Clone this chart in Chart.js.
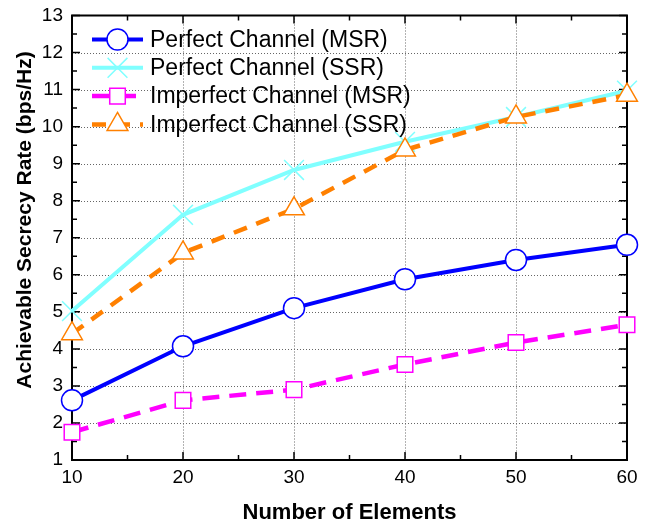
<!DOCTYPE html>
<html>
<head>
<meta charset="utf-8">
<script src="https://cdn.jsdelivr.net/npm/chart.js@4/dist/chart.umd.min.js"></script>
<style>
  html, body { margin: 0; padding: 0; background: #fff; }
</style>
</head>
<body>
<canvas id="chart" width="655" height="528"></canvas>
<script>
// data
const elements = [10, 20, 30, 40, 50, 60];
const perfectMSR = [2.61, 4.07, 5.10, 5.88, 6.40, 6.81];
const perfectSSR = [5.02, 7.62, 8.83, 9.59, 10.26, 10.97];
const imperfectMSR = [1.75, 2.61, 2.90, 3.58, 4.17, 4.65];
const imperfectSSR = [4.41, 6.59, 7.78, 9.37, 10.26, 10.85];
const seriesNames = ['Perfect Channel (MSR)', 'Perfect Channel (SSR)', 'Imperfect Channel (MSR)', 'Imperfect Channel (SSR)'];
const xTicks = [10, 20, 30, 40, 50, 60];
const yTicks = [1, 2, 3, 4, 5, 6, 7, 8, 9, 10, 11, 12, 13];

const FONT = '"Liberation Sans", Arial, sans-serif';

function toPoints(vals) {
    return vals.map((v, i) => ({ x: elements[i], y: v }));
}

// marker drawing, used by the legend
function drawMarker(ctx, style, r, x, y, color, lw) {
    ctx.save();
    ctx.setLineDash([]);
    ctx.strokeStyle = color;
    ctx.fillStyle = '#fff';
    ctx.lineWidth = lw;
    ctx.beginPath();
    if (style === 'circle') {
        ctx.arc(x, y, r, 0, Math.PI * 2);
        ctx.fill(); ctx.stroke();
    } else if (style === 'rect') {
        const s = r * Math.SQRT1_2;
        ctx.rect(x - s, y - s, 2 * s, 2 * s);
        ctx.fill(); ctx.stroke();
    } else if (style === 'triangle') {
        for (let k = 0; k < 3; k++) {
            const a = k * 2 * Math.PI / 3;
            const px = x + Math.sin(a) * r, py = y - Math.cos(a) * r;
            if (k === 0) ctx.moveTo(px, py); else ctx.lineTo(px, py);
        }
        ctx.closePath();
        ctx.fill(); ctx.stroke();
    } else if (style === 'crossRot') {
        const d = r * Math.SQRT1_2;
        ctx.moveTo(x - d, y - d); ctx.lineTo(x + d, y + d);
        ctx.moveTo(x - d, y + d); ctx.lineTo(x + d, y - d);
        ctx.stroke();
    }
    ctx.restore();
}

// dotted grid, box frame and inward ticks
const framePlugin = {
    id: 'frame',
    beforeDatasetsDraw(chart) {
        const { ctx, chartArea: a, scales: { x, y } } = chart;
        ctx.save();
        ctx.strokeStyle = '#666';
        ctx.lineWidth = 1;
        ctx.setLineDash([1, 2]);
        xTicks.slice(1, -1).forEach(v => {
            const px = Math.round(x.getPixelForValue(v)) + 0.5;
            ctx.beginPath(); ctx.moveTo(px, a.top); ctx.lineTo(px, a.bottom); ctx.stroke();
        });
        yTicks.slice(1, -1).forEach(v => {
            const py = Math.round(y.getPixelForValue(v)) + 0.5;
            ctx.beginPath(); ctx.moveTo(a.left, py); ctx.lineTo(a.right, py); ctx.stroke();
        });
        ctx.setLineDash([]);
        ctx.strokeStyle = '#000';
        ctx.lineWidth = 1.5;
        // minor + major ticks
        for (let v = 10; v <= 60; v += 5) {
            const px = x.getPixelForValue(v);
            const len = v % 10 === 0 ? 8 : 5;
            ctx.beginPath();
            ctx.moveTo(px, a.bottom); ctx.lineTo(px, a.bottom - len);
            ctx.moveTo(px, a.top); ctx.lineTo(px, a.top + len);
            ctx.stroke();
        }
        for (let v = 1; v <= 13; v += 0.5) {
            const py = y.getPixelForValue(v);
            const len = v % 1 === 0 ? 8 : 5;
            ctx.beginPath();
            ctx.moveTo(a.left, py); ctx.lineTo(a.left + len, py);
            ctx.moveTo(a.right, py); ctx.lineTo(a.right - len, py);
            ctx.stroke();
        }
        ctx.lineWidth = 2;
        ctx.strokeRect(a.left, a.top, a.right - a.left, a.bottom - a.top);
        ctx.restore();
    },
    afterDraw(chart) {
        const { ctx, chartArea: a } = chart;
        // y axis title
        ctx.save();
        ctx.translate(25, 220);
        ctx.rotate(-Math.PI / 2);
        ctx.font = 'bold 21px ' + FONT;
        ctx.fillStyle = '#000';
        ctx.textAlign = 'center';
        ctx.textBaseline = 'middle';
        ctx.fillText('Achievable Secrecy Rate (bps/Hz)', 0, 0);
        ctx.restore();

        // legend in the upper left corner
        ctx.save();
        chart.data.datasets.forEach((ds, i) => {
            const ly = a.top + 24 + i * 28.3;
            const x0 = a.left + 20, x1 = a.left + 71;
            ctx.strokeStyle = ds.borderColor;
            ctx.lineWidth = ds.borderWidth;
            ctx.setLineDash(ds.borderDash || []);
            ctx.beginPath(); ctx.moveTo(x0, ly); ctx.lineTo(x1, ly); ctx.stroke();
            drawMarker(ctx, ds.pointStyle, ds.pointRadius, (x0 + x1) / 2, ly, ds.pointBorderColor, ds.pointBorderWidth);
            ctx.fillStyle = '#000';
            ctx.font = '23px ' + FONT;
            ctx.textBaseline = 'middle';
            ctx.textAlign = 'left';
            ctx.fillText(ds.label, x1 + 7, ly + 1);
        });
        ctx.restore();
    }
};

const styles = [
    { color: '#0000ff', width: 4, dash: [], point: 'circle', r: 10.5 },
    { color: '#80ffff', width: 4, dash: [], point: 'crossRot', r: 14 },
    { color: '#ff00ff', width: 4.5, dash: [17, 10], point: 'rect', r: 11 },
    { color: '#ff8000', width: 4.5, dash: [14, 10], point: 'triangle', r: 12 }
];
const seriesValues = [perfectMSR, perfectSSR, imperfectMSR, imperfectSSR];
const drawOrder = [4, 3, 2, 1];

const datasets = seriesValues.map((vals, i) => ({
    label: seriesNames[i],
    data: toPoints(vals),
    borderColor: styles[i].color,
    borderWidth: styles[i].width,
    borderDash: styles[i].dash,
    pointStyle: styles[i].point,
    pointRadius: styles[i].r,
    pointHoverRadius: styles[i].r,
    pointBorderColor: styles[i].color,
    pointBorderWidth: 1.5,
    pointBackgroundColor: '#fff',
    tension: 0,
    clip: false,
    order: drawOrder[i]
}));

new Chart(document.getElementById('chart'), {
    type: 'line',
    data: { datasets: datasets },
    options: {
        responsive: false,
        animation: false,
        devicePixelRatio: 1,
        layout: { padding: { top: 13, right: 28, left: 0, bottom: 0 } },
        plugins: { legend: { display: false }, tooltip: { enabled: false } },
        scales: {
            x: {
                type: 'linear',
                min: 10, max: 60,
                afterBuildTicks: s => { s.ticks = xTicks.map(v => ({ value: v })); },
                afterFit: s => { s.height = 68; s.paddingLeft = 0; s.paddingRight = 0; },
                grid: { display: false, drawTicks: false },
                border: { display: false },
                ticks: { color: '#000', font: { family: FONT, size: 19 }, padding: 6, maxRotation: 0 },
                title: {
                    display: true,
                    text: 'Number of Elements',
                    color: '#000',
                    font: { family: FONT, size: 22, weight: 'bold' },
                    padding: { top: 0, bottom: 2 }
                }
            },
            y: {
                min: 1, max: 13,
                afterBuildTicks: s => { s.ticks = yTicks.map(v => ({ value: v })); },
                afterFit: s => { s.width = 72; s.paddingTop = 0; s.paddingBottom = 0; },
                grid: { display: false, drawTicks: false },
                border: { display: false },
                ticks: { color: '#000', font: { family: FONT, size: 19 }, padding: 9 }
            }
        }
    },
    plugins: [framePlugin]
});
</script>
</body>
</html>
